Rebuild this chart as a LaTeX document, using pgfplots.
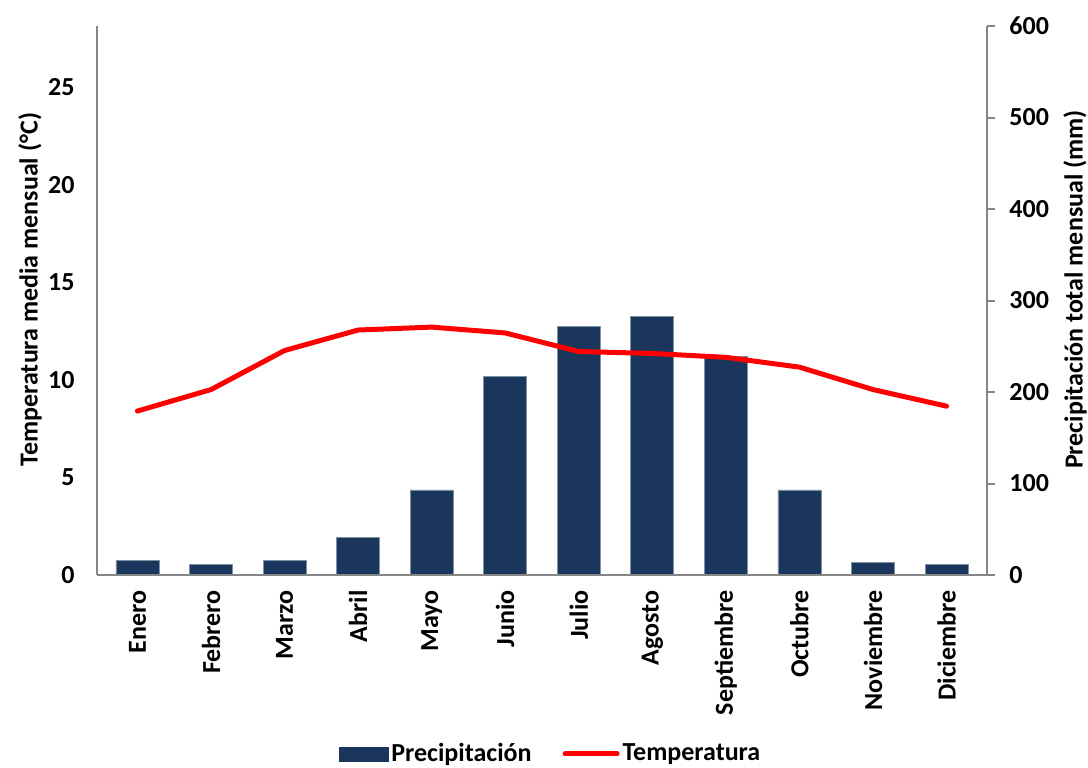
\documentclass[border=0pt]{standalone}
\usepackage{fontspec}
\setmainfont{Carlito}
\usepackage{pgfplots}
\usepackage{pgfplotstable}
\pgfplotsset{compat=1.18}

\definecolor{precip}{RGB}{27,54,93}
\definecolor{axisgray}{RGB}{134,134,134}
\definecolor{tempred}{RGB}{255,0,0}

% Monthly climate data: precipitation (mm) and mean temperature (°C)
\pgfplotstableread{
idx prec temp
0   16   8.4
1   12   9.5
2   16   11.5
3   41   12.55
4   93   12.7
5   217  12.4
6   272  11.45
7   283  11.35
8   239  11.15
9   93   10.65
10  14   9.5
11  12   8.65
}\clima

\pgfplotsset{
  base/.style={
    scale only axis,
    width=445pt, height=274.5pt,
    xmin=-0.55, xmax=11.55,
    font=\fontsize{13}{15}\selectfont\bfseries,
    /pgf/number format/assume math mode=true,
    tick label style={font=\fontsize{13}{15}\selectfont\bfseries},
    label style={font=\fontsize{13}{15}\selectfont\bfseries},
    axis line style={axisgray, line width=1pt},
  }
}

\begin{document}
\begin{tikzpicture}
\useasboundingbox (-48.5pt,-96pt) rectangle (495.5pt,287.5pt);

% Precipitation bars on the right-hand axis
\begin{axis}[
  base,
  axis y line*=right,
  axis x line=none,
  ymin=0, ymax=600,
  ytick={0,100,...,600},
  tick align=outside,
  major tick length=4pt,
  ytick style={axisgray, line width=1pt},
  yticklabel style={inner sep=0pt, xshift=7pt},
  ylabel={Precipitación total mensual (mm)},
  ylabel style={at={(axis description cs:1.099,0.52)}, anchor=center, rotate=0},
]
\addplot[ybar, bar width=21.5pt, fill=precip, draw=precip!55!white, line width=0.4pt]
  table[x=idx, y=prec] {\clima};
\end{axis}

% Temperature line on the left-hand axis
\begin{axis}[
  base,
  axis y line*=left,
  axis x line*=bottom,
  ymin=0, ymax=28.125,
  ytick={0,5,...,25},
  xtick={0,...,11},
  xticklabels={Enero,Febrero,Marzo,Abril,Mayo,Junio,Julio,Agosto,Septiembre,Octubre,Noviembre,Diciembre},
  major tick length=0pt,
  tick style={draw=none},
  xticklabel style={rotate=90, anchor=east, inner sep=0pt},
  xticklabel shift=7.5pt,
  yticklabel style={inner sep=0pt},
  yticklabel shift=11pt,
  ylabel={Temperatura media mensual (°C)},
  ylabel style={at={(axis description cs:-0.0753,0.52)}, anchor=center},
  legend columns=2,
  legend style={
    at={(0.51,-0.326)}, anchor=center, draw=none,
    font=\fontsize{13}{15}\selectfont\bfseries,
    /tikz/every even column/.append style={column sep=14pt},
    nodes={inner sep=1.5pt},
  },
]
\addlegendimage{legend image code/.code={
  \fill[precip] (0pt,-3.5pt) rectangle (24.5pt,3.5pt);}}
\addlegendentry{Precipitación}
\addplot[tempred, line width=2.5pt, line join=round, line cap=round,
  legend image code/.code={\draw[tempred, line width=2.5pt, line cap=round] (0pt,0pt) -- (26pt,0pt);}]
  table[x=idx, y=temp] {\clima};
\addlegendentry{Temperatura}
\end{axis}
\end{tikzpicture}
\end{document}
